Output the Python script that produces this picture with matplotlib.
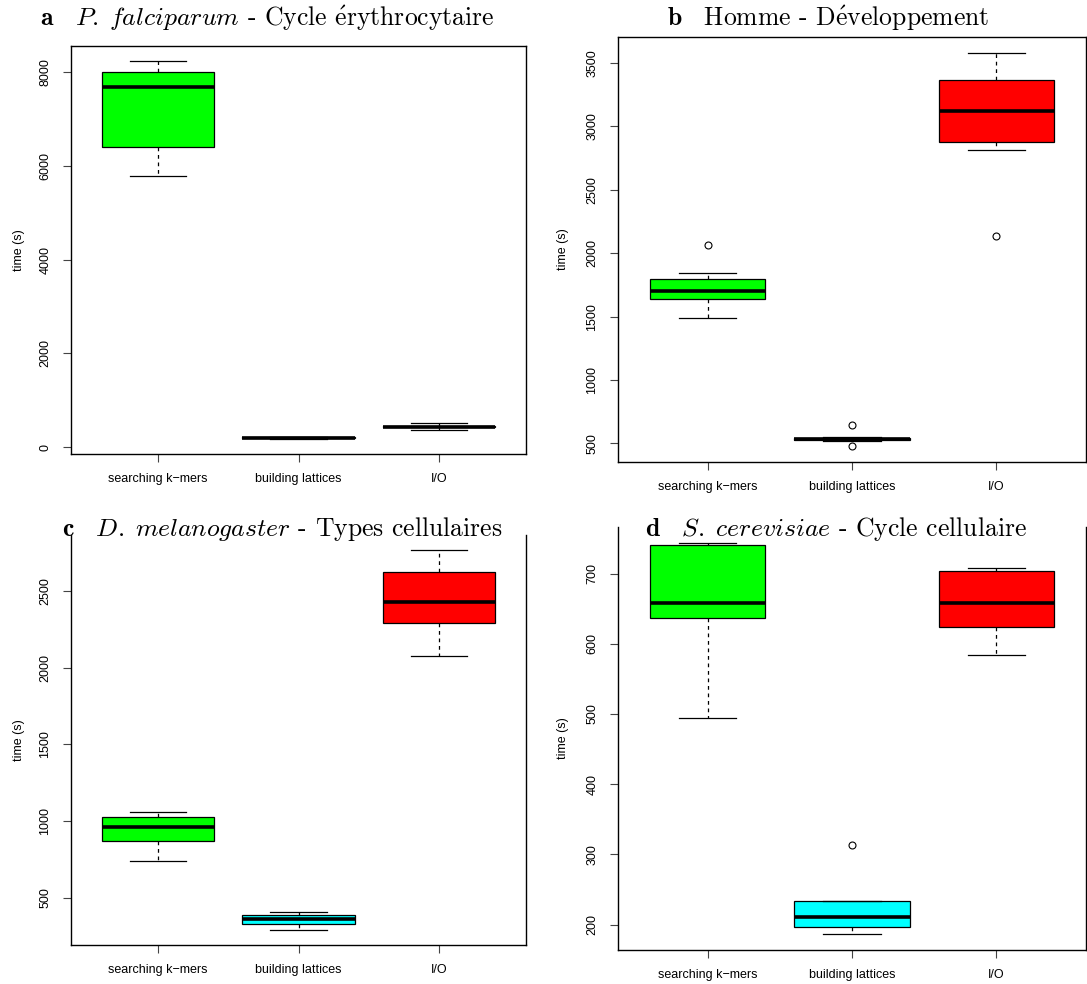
import matplotlib.pyplot as plt

plt.rcParams['mathtext.fontset'] = 'cm'
plt.rcParams['font.family'] = ['Liberation Sans', 'DejaVu Sans']

categories = ['searching k\u2212mers', 'building lattices', 'I/O']
box_colors = ['#00ff00', '#00ffff', '#ff0000']

# five-number summaries: whislo, q1, median, q3, whishi
a_kmers = [5786, 6397, 7673, 8000, 8235]
a_lattices = [175, 190, 200, 212, 225]
a_io = [370, 420, 438, 455, 520]
a_fliers = [[], [], []]

b_kmers = [1487, 1637, 1705, 1800, 1842]
b_lattices = [515, 525, 533, 540, 552]
b_io = [2815, 2878, 3123, 3368, 3581]
b_fliers = [[2063], [642, 477], [2137]]

c_kmers = [740, 870, 960, 1025, 1060]
c_lattices = [290, 330, 360, 385, 405]
c_io = [2079, 2295, 2430, 2624, 2768]
c_fliers = [[], [], []]

d_kmers = [494, 636, 658, 740, 744]
d_lattices = [186, 196, 210, 234, 234]
d_io = [584, 624, 658, 703, 708]
d_fliers = [[], [313], []]

a_yticks = [0, 2000, 4000, 6000, 8000]
b_yticks = [500, 1000, 1500, 2000, 2500, 3000, 3500]
c_yticks = [500, 1000, 1500, 2000, 2500]
d_yticks = [200, 300, 400, 500, 600, 700]

titles = [
    r'$\mathbf{a}\quad\mathit{P.\;falciparum}$ - Cycle $\mathrm{\acute{e}}$rythrocytaire',
    r'$\mathbf{b}\quad$Homme - D$\mathrm{\acute{e}}$veloppement',
    r'$\mathbf{c}\quad\mathit{D.\;melanogaster}$ - Types cellulaires',
    r'$\mathbf{d}\quad\mathit{S.\;cerevisiae}$ - Cycle cellulaire',
]

W, H = 1087, 984
fig = plt.figure(figsize=(W / 100, H / 100), dpi=100)


def make_axes(left, right, top, bottom):
    return fig.add_axes([left / W, 1 - bottom / H, (right - left) / W, (bottom - top) / H])


def draw_panel(ax, series, fliers, yticks, label_x):
    stats = []
    for s, f in zip(series, fliers):
        stats.append(dict(whislo=s[0], q1=s[1], med=s[2], q3=s[3], whishi=s[4], fliers=f))
    bp = ax.bxp(stats, positions=[1, 2, 3], widths=0.8, capwidths=0.4, patch_artist=True,
                boxprops=dict(edgecolor='black', linewidth=0.9),
                medianprops=dict(color='black', linewidth=2.6, solid_capstyle='butt'),
                whiskerprops=dict(color='black', linewidth=0.9, linestyle=(0, (3, 3))),
                capprops=dict(color='black', linewidth=0.9),
                flierprops=dict(marker='o', markerfacecolor='none', markeredgecolor='black',
                                markersize=5, markeredgewidth=0.8))
    for patch, c in zip(bp['boxes'], box_colors):
        patch.set_facecolor(c)
    values = [v for s in series for v in s] + [v for f in fliers for v in f]
    lo, hi = min(values), max(values)
    r = hi - lo
    ax.set_ylim(lo - 0.04 * r, hi + 0.04 * r)
    ax.set_xlim(0.38, 3.62)
    ax.set_xticks([1, 2, 3])
    ax.set_xticklabels(categories, fontsize=9)
    ax.set_yticks(yticks)
    ax.set_yticklabels([str(t) for t in yticks], fontsize=9, rotation=90, va='center')
    ax.tick_params(axis='both', direction='out', length=6, width=0.8, color='#444444', pad=8)
    ax.set_ylabel('time (s)', fontsize=9)
    ax.yaxis.set_label_coords(label_x, 0.5)
    for sp in ax.spines.values():
        sp.set_linewidth(1.0)


ax_a = make_axes(71, 526, 46, 454)
ax_b = make_axes(618, 1086, 37, 462)
ax_c = make_axes(71, 526, 535, 945)
ax_d = make_axes(618, 1086, 527, 950)

draw_panel(ax_a, [a_kmers, a_lattices, a_io], a_fliers, a_yticks, -0.101)
draw_panel(ax_b, [b_kmers, b_lattices, b_io], b_fliers, b_yticks, -0.104)
draw_panel(ax_c, [c_kmers, c_lattices, c_io], c_fliers, c_yticks, -0.101)
draw_panel(ax_d, [d_kmers, d_lattices, d_io], d_fliers, d_yticks, -0.104)

# the lower panels sit right under their titles, top frame is covered
ax_c.spines['top'].set_visible(False)
ax_d.spines['top'].set_visible(False)

title_pos = [(267, 18), (828, 18), (282, 529), (836, 529)]
for t, (x, y) in zip(titles, title_pos):
    fig.text(x / W, 1 - y / H, t, ha='center', va='center', fontsize=18.5,
             family=['cmr10', 'DejaVu Serif'])

fig.savefig('out.png', dpi=100)
